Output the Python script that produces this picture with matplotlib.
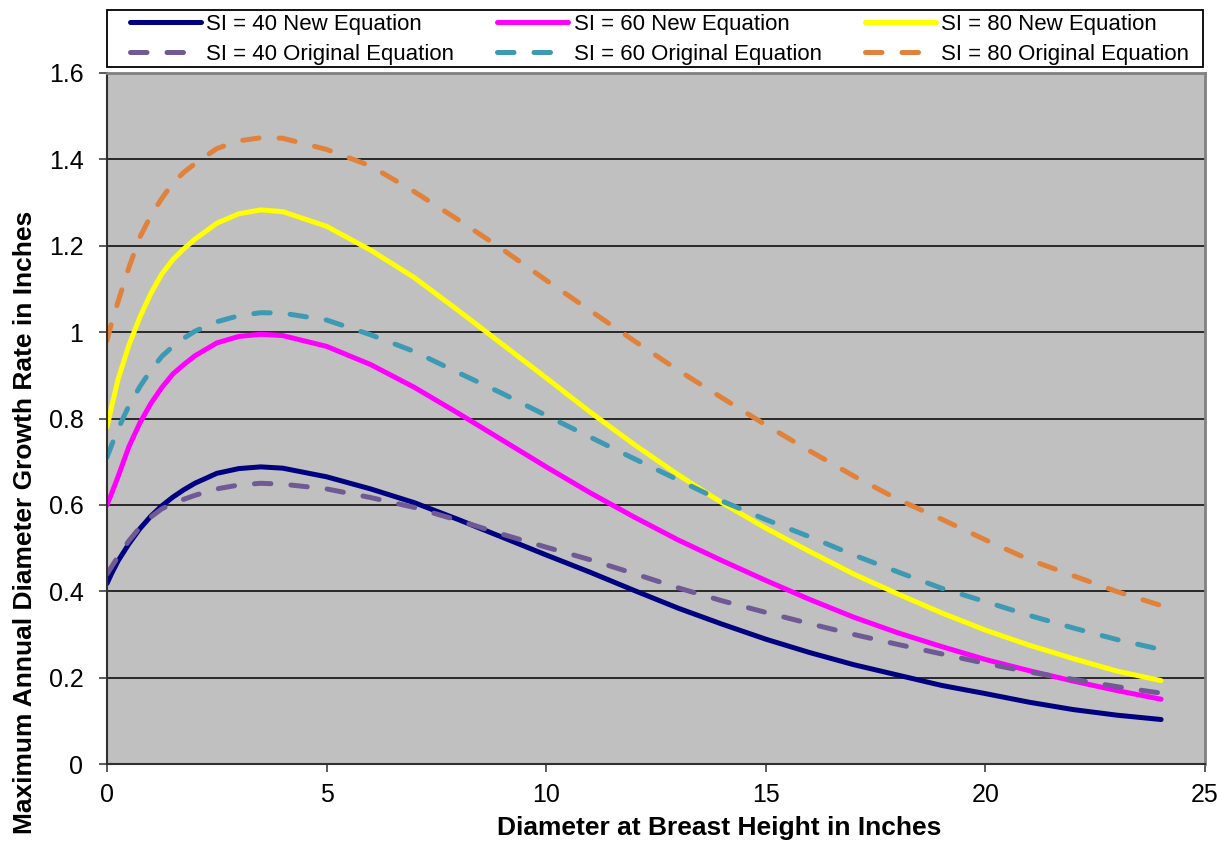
import matplotlib
matplotlib.use('Agg')
import matplotlib.pyplot as plt
from matplotlib.patches import Rectangle
from matplotlib.ticker import FormatStrFormatter

plt.rcParams['font.family'] = ['Liberation Sans', 'DejaVu Sans']

# diameter at breast height (inches)
dbh = [0, 0.1, 0.25, 0.5, 0.75, 1, 1.25, 1.5, 1.75, 2, 2.5, 3, 3.5, 4, 5, 6, 7,
       8, 9, 10, 11, 12, 13, 14, 15, 16, 17, 18, 19, 20, 21, 22, 23, 24]

si40_new = [0.418, 0.44, 0.47, 0.51, 0.545, 0.574, 0.598, 0.618, 0.635, 0.65,
            0.673, 0.684, 0.688, 0.685, 0.665, 0.637, 0.605, 0.566, 0.525, 0.484,
            0.444, 0.402, 0.361, 0.324, 0.289, 0.258, 0.23, 0.206, 0.182, 0.163,
            0.143, 0.126, 0.113, 0.103]
si60_new = [0.60, 0.625, 0.665, 0.735, 0.79, 0.835, 0.872, 0.903, 0.925, 0.945,
            0.975, 0.99, 0.995, 0.992, 0.967, 0.925, 0.872, 0.812, 0.75, 0.688,
            0.628, 0.572, 0.519, 0.471, 0.425, 0.381, 0.34, 0.304, 0.272, 0.242,
            0.216, 0.192, 0.17, 0.15]
si80_new = [0.78, 0.825, 0.89, 0.97, 1.035, 1.09, 1.135, 1.168, 1.193, 1.215,
            1.252, 1.274, 1.283, 1.279, 1.245, 1.19, 1.126, 1.05, 0.972, 0.894,
            0.815, 0.74, 0.67, 0.605, 0.546, 0.492, 0.44, 0.394, 0.35, 0.31,
            0.275, 0.244, 0.215, 0.193]
si40_orig = [0.44, 0.456, 0.48, 0.517, 0.548, 0.572, 0.591, 0.603, 0.613, 0.622,
             0.637, 0.646, 0.65, 0.648, 0.637, 0.617, 0.594, 0.564, 0.532, 0.502,
             0.473, 0.441, 0.408, 0.378, 0.351, 0.325, 0.3, 0.277, 0.255, 0.233,
             0.213, 0.196, 0.179, 0.164]
si60_orig = [0.71, 0.737, 0.775, 0.83, 0.874, 0.912, 0.944, 0.967, 0.986, 1.002,
             1.024, 1.038, 1.045, 1.044, 1.028, 0.994, 0.955, 0.906, 0.858, 0.807,
             0.757, 0.707, 0.658, 0.609, 0.566, 0.526, 0.484, 0.445, 0.407, 0.376,
             0.344, 0.315, 0.288, 0.265]
si80_orig = [0.98, 1.02, 1.07, 1.15, 1.22, 1.27, 1.31, 1.345, 1.37, 1.39,
             1.425, 1.443, 1.45, 1.449, 1.423, 1.385, 1.325, 1.26, 1.192, 1.12,
             1.05, 0.98, 0.912, 0.848, 0.785, 0.725, 0.667, 0.613, 0.567, 0.519,
             0.473, 0.436, 0.399, 0.367]

new_series = [('SI = 40 New Equation', si40_new, '#000080'),
              ('SI = 60 New Equation', si60_new, '#FF00FF'),
              ('SI = 80 New Equation', si80_new, '#FFFF00')]
orig_series = [('SI = 40 Original Equation', si40_orig, '#705A96'),
               ('SI = 60 Original Equation', si60_orig, '#3E9AB2'),
               ('SI = 80 Original Equation', si80_orig, '#E0823C')]

W, H = 1229, 844
fig = plt.figure(figsize=(W / 100, H / 100), dpi=100)
ax = fig.add_axes([107 / W, 80 / H, 1098 / W, 691 / H])
ax.set_facecolor('#C0C0C0')

lines = {}
for label, vals, color in new_series:
    ln, = ax.plot(dbh, vals, color=color, lw=3.6, solid_capstyle='round',
                  solid_joinstyle='round', label=label)
    lines[label] = ln
for label, vals, color in orig_series:
    ln, = ax.plot(dbh, vals, color=color, lw=3.6, dashes=(3.3, 4.0),
                  dash_capstyle='round', dash_joinstyle='round', label=label)
    lines[label] = ln

ax.set_xlim(0, 25)
ax.set_ylim(0, 1.6)
ax.set_xticks(range(0, 26, 5))
ax.set_yticks([i * 0.2 for i in range(9)])
ax.yaxis.set_major_formatter(FormatStrFormatter('%g'))
ax.yaxis.grid(True, color='black', lw=1.1)
ax.set_axisbelow(True)

ax.tick_params(axis='both', labelsize=18, direction='out', length=6, width=1.2,
               color='#404040')
ax.tick_params(axis='y', pad=11)
ax.tick_params(axis='x', pad=8)
for side in ['left', 'bottom']:
    ax.spines[side].set_color('#303030')
    ax.spines[side].set_linewidth(1.5)
for side in ['top', 'right']:
    ax.spines[side].set_color('#808080')
    ax.spines[side].set_linewidth(2)

fig.text(719 / W, 1 - 828 / H, 'Diameter at Breast Height in Inches',
         ha='center', va='center', fontsize=19, fontweight='bold')
fig.text(25 / W, 1 - 522 / H, 'Maximum Annual Diameter Growth Rate in Inches',
         ha='center', va='center', rotation=90, fontsize=19, fontweight='bold')

# legend frame drawn as a box spanning the plot width
fig.patches.append(Rectangle((107 / W, 1 - 67 / H), 1096 / W, 57 / H,
                             transform=fig.transFigure, facecolor='white',
                             edgecolor='black', lw=1.3, zorder=0))

order = [new_series[0][0], orig_series[0][0], new_series[1][0], orig_series[1][0],
         new_series[2][0], orig_series[2][0]]
leg = fig.legend([lines[k] for k in order], order, ncol=3, mode='expand',
                 loc='upper left',
                 bbox_to_anchor=(125 / W, 0, 1069 / W, 1 - 9.5 / H),
                 fontsize=16, handlelength=3.2, handletextpad=0.25,
                 labelspacing=0.4, borderpad=0.21, borderaxespad=0,
                 frameon=False)

plt.savefig('out.png', dpi=100)
plt.close()
